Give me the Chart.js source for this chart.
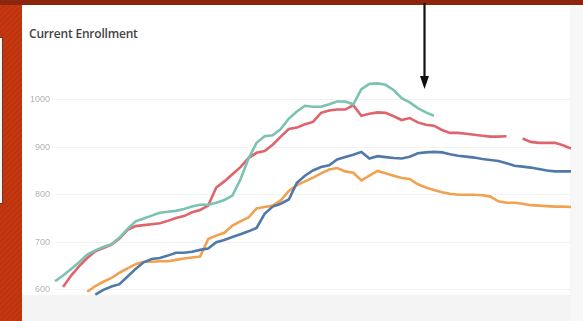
<!DOCTYPE html>
<html>
<head>
<meta charset="utf-8">
<script src="https://cdn.jsdelivr.net/npm/chart.js@4.4.0/dist/chart.umd.min.js"></script>
<style>
  html, body { margin: 0; padding: 0; }
  body {
    width: 583px; height: 321px; overflow: hidden; position: relative;
    background: repeating-linear-gradient(135deg, #c5380f 0px, #c5380f 2px, #b4300d 3px, #c5380f 4px);
  }
  #topband { position: absolute; left: 0; top: 0; width: 583px; height: 5px; background: #8c250b; }
  #sidebox { position: absolute; left: -10px; top: 37px; width: 11px; height: 165px; background: #f4f4f4; border: 1px solid #6a3a2a; }
  #panel { position: absolute; left: 22px; top: 5px; width: 561px; height: 316px; background: #ffffff; }
  #bottomband { position: absolute; left: 0; top: 290px; width: 561px; height: 26px; background: #f4f4f4; }
  #rightband { position: absolute; left: 548px; top: 0; width: 13px; height: 316px; background: #f7f7f7; }
  #title { position: absolute; left: 7px; top: 20px; font-family: "Open Sans", sans-serif; font-size: 12px; font-weight: 600; color: #444444; letter-spacing: -0.2px; }
  #chart-wrap { position: absolute; left: 0; top: 0; width: 561px; height: 316px; }
  #arrow { position: absolute; left: 0; top: 0; }
</style>
</head>
<body>
<div id="topband"></div>
<div id="sidebox"></div>
<div id="panel">
  <div id="bottomband"></div>
  <div id="rightband"></div>
  <div id="title">Current Enrollment</div>
  <div id="chart-wrap"><canvas id="enrollChart" width="561" height="316"></canvas></div>
</div>
<svg id="arrow" width="583" height="100">
  <line x1="424.5" y1="3" x2="424.5" y2="80" stroke="#111" stroke-width="2.2"/>
  <polygon points="420,76 429,76 424.5,89" fill="#111"/>
</svg>
<script>
// weekly snapshots, 65 points across the season
const weeks = [];
for (let i = 1; i <= 65; i++) weeks.push("W" + i);

const yTicks = [600, 700, 800, 900, 1000];

const tealValues = [
  618, 630, 644, 658, 674, 683, 690, 696, 710, 728,
  744, 750, 756, 762, 764, 766, 770, 775, 779, 779,
  783, 789, 798, 832, 876, 909, 923, 925, 938, 960,
  975, 987, 985, 985, 990, 996, 996, 990, 1022, 1033,
  1034, 1031, 1020, 1003, 994, 982, 973, 966, null, null,
  null, null, null, null, null, null, null, null, null, null,
  null, null, null, null, null
];

const redValues = [
  null, 606, 630, 650, 667, 681, 688, 695, 708, 726,
  734, 736, 738, 740, 745, 751, 755, 763, 768, 777,
  815, 828, 843, 858, 877, 888, 892, 905, 922, 938,
  941, 948, 953, 972, 977, 979, 979, 988, 966, 970,
  973, 972, 965, 957, 961, 952, 947, 945, 936, 930,
  930, 928, 926, 924, 922, 922, 923, null, 918, 911,
  909, 909, 909, 904, 897
];

const blueValues = [
  null, null, null, null, null, 590, 600, 607, 612, 628,
  644, 658, 665, 667, 672, 678, 678, 680, 684, 687,
  700, 705, 711, 717, 723, 730, 760, 775, 781, 790,
  825, 840, 851, 858, 862, 874, 879, 884, 890, 876,
  881, 879, 877, 876, 880, 887, 889, 890, 889, 885,
  882, 880, 878, 875, 873, 871, 866, 861, 859, 857,
  854, 851, 849, 849, 849
];

const orangeValues = [
  null, null, null, null, 596, 608, 617, 625, 636, 645,
  654, 659, 659, 660, 660, 663, 666, 668, 670, 707,
  714, 720, 735, 744, 752, 771, 774, 777, 788, 808,
  820, 828, 836, 845, 853, 856, 849, 846, 830, 840,
  850, 845, 840, 835, 833, 822, 815, 810, 805, 802,
  800, 800, 800, 799, 796, 786, 783, 783, 781, 778,
  777, 776, 775, 775, 774
];

function makeLine(label, values, color) {
  return {
    label: label,
    data: values,
    borderColor: color,
    borderWidth: 2.6,
    pointRadius: 0,
    tension: 0,
    spanGaps: false,
    fill: false,
  };
}

let ctx = document.getElementById("enrollChart").getContext("2d");
let myChart = new Chart(ctx, {
  type: "line",
  data: {
    labels: weeks,
    datasets: [
      makeLine("Teal", tealValues, "#7cc2b3"),
      makeLine("Red", redValues, "#e0646b"),
      makeLine("Blue", blueValues, "#5079aa"),
      makeLine("Orange", orangeValues, "#f1a14f"),
    ],
  },
  options: {
    responsive: false,
    animation: false,
    layout: { padding: { top: 66, bottom: 24, right: 12, left: 0 } },
    plugins: {
      legend: { display: false },
      tooltip: { enabled: false },
    },
    scales: {
      x: {
        display: false,
        offset: false,
      },
      y: {
        min: 585,
        max: 1060,
        afterBuildTicks: function (axis) {
          axis.ticks = yTicks.map((v) => ({ value: v }));
        },
        afterFit: function (axis) {
          axis.width = 33;
        },
        border: { display: false },
        grid: { color: "#f2f2f2", drawTicks: false },
        ticks: {
          padding: 5,
          color: "#b4b4b4",
          font: { family: "Liberation Sans", size: 9 },
          callback: function (value) {
            return String(value);
          },
        },
      },
    },
  },
});
</script>
</body>
</html>
